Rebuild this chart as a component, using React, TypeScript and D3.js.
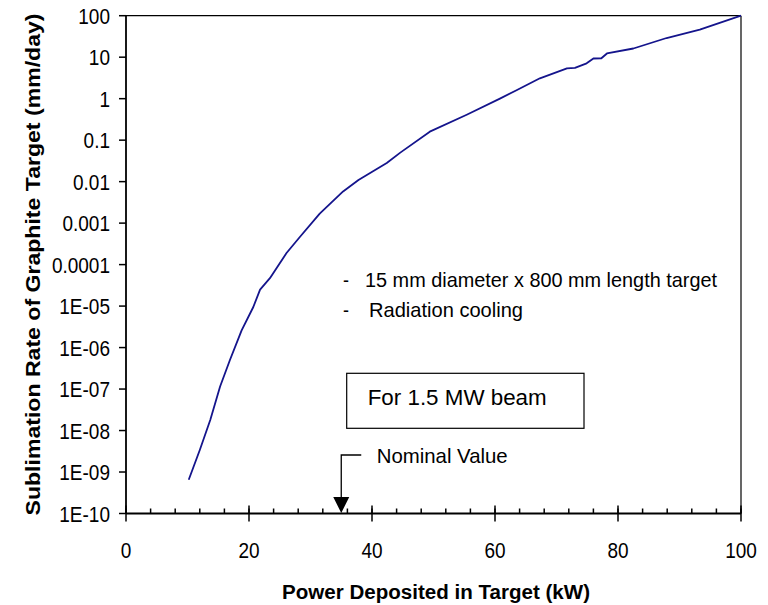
import React from "react";
import * as d3 from "d3";

const power = [10.2, 12.0, 13.7, 15.3, 16.9, 18.8, 20.7, 21.8, 23.4, 26.1, 28.3, 31.5, 35.3, 37.8, 42.4, 44.6, 49.4, 55.4, 60.8, 63.5, 67.3, 71.7, 73.0, 74.9, 76.0, 77.3, 78.2, 82.5, 87.9, 93.3, 100];
const rate = [6.5e-10, 3.4e-9, 1.8e-8, 1.15e-7, 5.0e-7, 2.6e-6, 9.5e-6, 2.5e-5, 4.7e-5, 1.9e-4, 4.7e-4, 1.7e-3, 5.8e-3, 0.011, 0.028, 0.05, 0.16, 0.41, 1.0, 1.6, 3.1, 5.4, 5.5, 7.1, 9.3, 9.4, 12.3, 16.2, 29, 46, 100];

const yTickValues = [1e-10, 1e-9, 1e-8, 1e-7, 1e-6, 1e-5, 1e-4, 1e-3, 1e-2, 0.1, 1, 10, 100];
const yTickLabels = ["1E-10", "1E-09", "1E-08", "1E-07", "1E-06", "1E-05", "0.0001", "0.001", "0.01", "0.1", "1", "10", "100"];
const xTickValues = [0, 20, 40, 60, 80, 100];
const xMinorValues = d3.range(0, 101, 4);

const nominalPower = 35;
const noteLines = ["15 mm diameter x 800 mm length target", "Radiation cooling"];
const boxText = "For 1.5 MW beam";
const nominalText = "Nominal Value";
const xTitle = "Power Deposited in Target (kW)";
const yTitle = "Sublimation Rate of Graphite Target (mm/day)";

const FONT = "Arial, 'Liberation Sans', Helvetica, sans-serif";
const SY = 1.15;

function T({ x, y, size, anchor = "start", weight = "normal", children, len, rotate = 0 }: any) {
  const tr = rotate
    ? `translate(${x},${y}) rotate(${rotate}) scale(1,${SY})`
    : `translate(${x},${y}) scale(1,${SY})`;
  return (
    <text
      transform={tr}
      fontFamily={FONT}
      fontSize={size}
      fontWeight={weight}
      textAnchor={anchor}
      fill="#000"
      {...(len ? { textLength: len, lengthAdjust: "spacingAndGlyphs" } : {})}
    >
      {children}
    </text>
  );
}

export default function App() {
  const L = 126, R = 741, TOP = 15.7, BOT = 513.5;
  const x = d3.scaleLinear().domain([0, 100]).range([L, R]);
  const y = d3.scaleLog().domain([1e-10, 100]).range([BOT, TOP]);
  const pts: [number, number][] = power.map((p, i) => [p, rate[i]]);
  const line = d3
    .line<[number, number]>()
    .x((d) => x(d[0]))
    .y((d) => y(d[1]));
  const nx = x(nominalPower);

  return (
    <svg width={768} height={605} style={{ position: "absolute", left: 0, top: 0, background: "#fff" }}>
      <rect x={0} y={0} width={768} height={605} fill="#fff" />
      <line x1={L} x2={R} y1={TOP} y2={TOP} stroke="#000" strokeWidth={1.2} />
      <line x1={R} x2={R} y1={TOP} y2={BOT} stroke="#000" strokeWidth={1.2} />
      <line x1={L} x2={L} y1={TOP} y2={BOT} stroke="#000" strokeWidth={1.8} />
      <line x1={L} x2={R} y1={BOT} y2={BOT} stroke="#000" strokeWidth={1.8} />
      {yTickValues.map((v, i) => (
        <g key={"y" + i}>
          <line x1={L - 7} x2={L} y1={y(v)} y2={y(v)} stroke="#000" strokeWidth={1.5} />
          <T x={110} y={y(v) + 8} size={19} anchor="end">
            {yTickLabels[i]}
          </T>
        </g>
      ))}
      {xMinorValues.map((v) => (
        <line key={"m" + v} x1={x(v)} x2={x(v)} y1={BOT - 5} y2={BOT} stroke="#000" strokeWidth={1.5} />
      ))}
      {xTickValues.map((v) => (
        <g key={"x" + v}>
          <line x1={x(v)} x2={x(v)} y1={BOT - 8} y2={BOT + 8} stroke="#000" strokeWidth={1.5} />
          <T x={x(v)} y={558} size={19} anchor="middle">
            {String(v)}
          </T>
        </g>
      ))}
      <path d={line(pts) || ""} fill="none" stroke="#14148c" strokeWidth={1.8} strokeLinejoin="round" />
      <T x={343} y={286.5} size={18}>-</T>
      <T x={365} y={286.5} size={18} len={352}>{noteLines[0]}</T>
      <T x={343} y={316.5} size={18}>-</T>
      <T x={369} y={316.5} size={18} len={154}>{noteLines[1]}</T>
      <rect x={346.7} y={373.3} width={237.3} height={55} fill="none" stroke="#000" strokeWidth={1.2} />
      <T x={367.7} y={405} size={19} len={179}>{boxText}</T>
      <polyline points={`${nx + 20},455 ${nx},455 ${nx},500`} fill="none" stroke="#000" strokeWidth={1.3} />
      <polygon points={`${nx - 8},497 ${nx + 8},497 ${nx},513`} fill="#000" />
      <T x={376.7} y={462.5} size={18} len={131}>{nominalText}</T>
      <T x={436} y={599} size={18} anchor="middle" weight="bold" len={308}>{xTitle}</T>
      <T x={40} y={264.5} size={18} anchor="middle" weight="bold" rotate={-90} len={502}>{yTitle}</T>
    </svg>
  );
}
